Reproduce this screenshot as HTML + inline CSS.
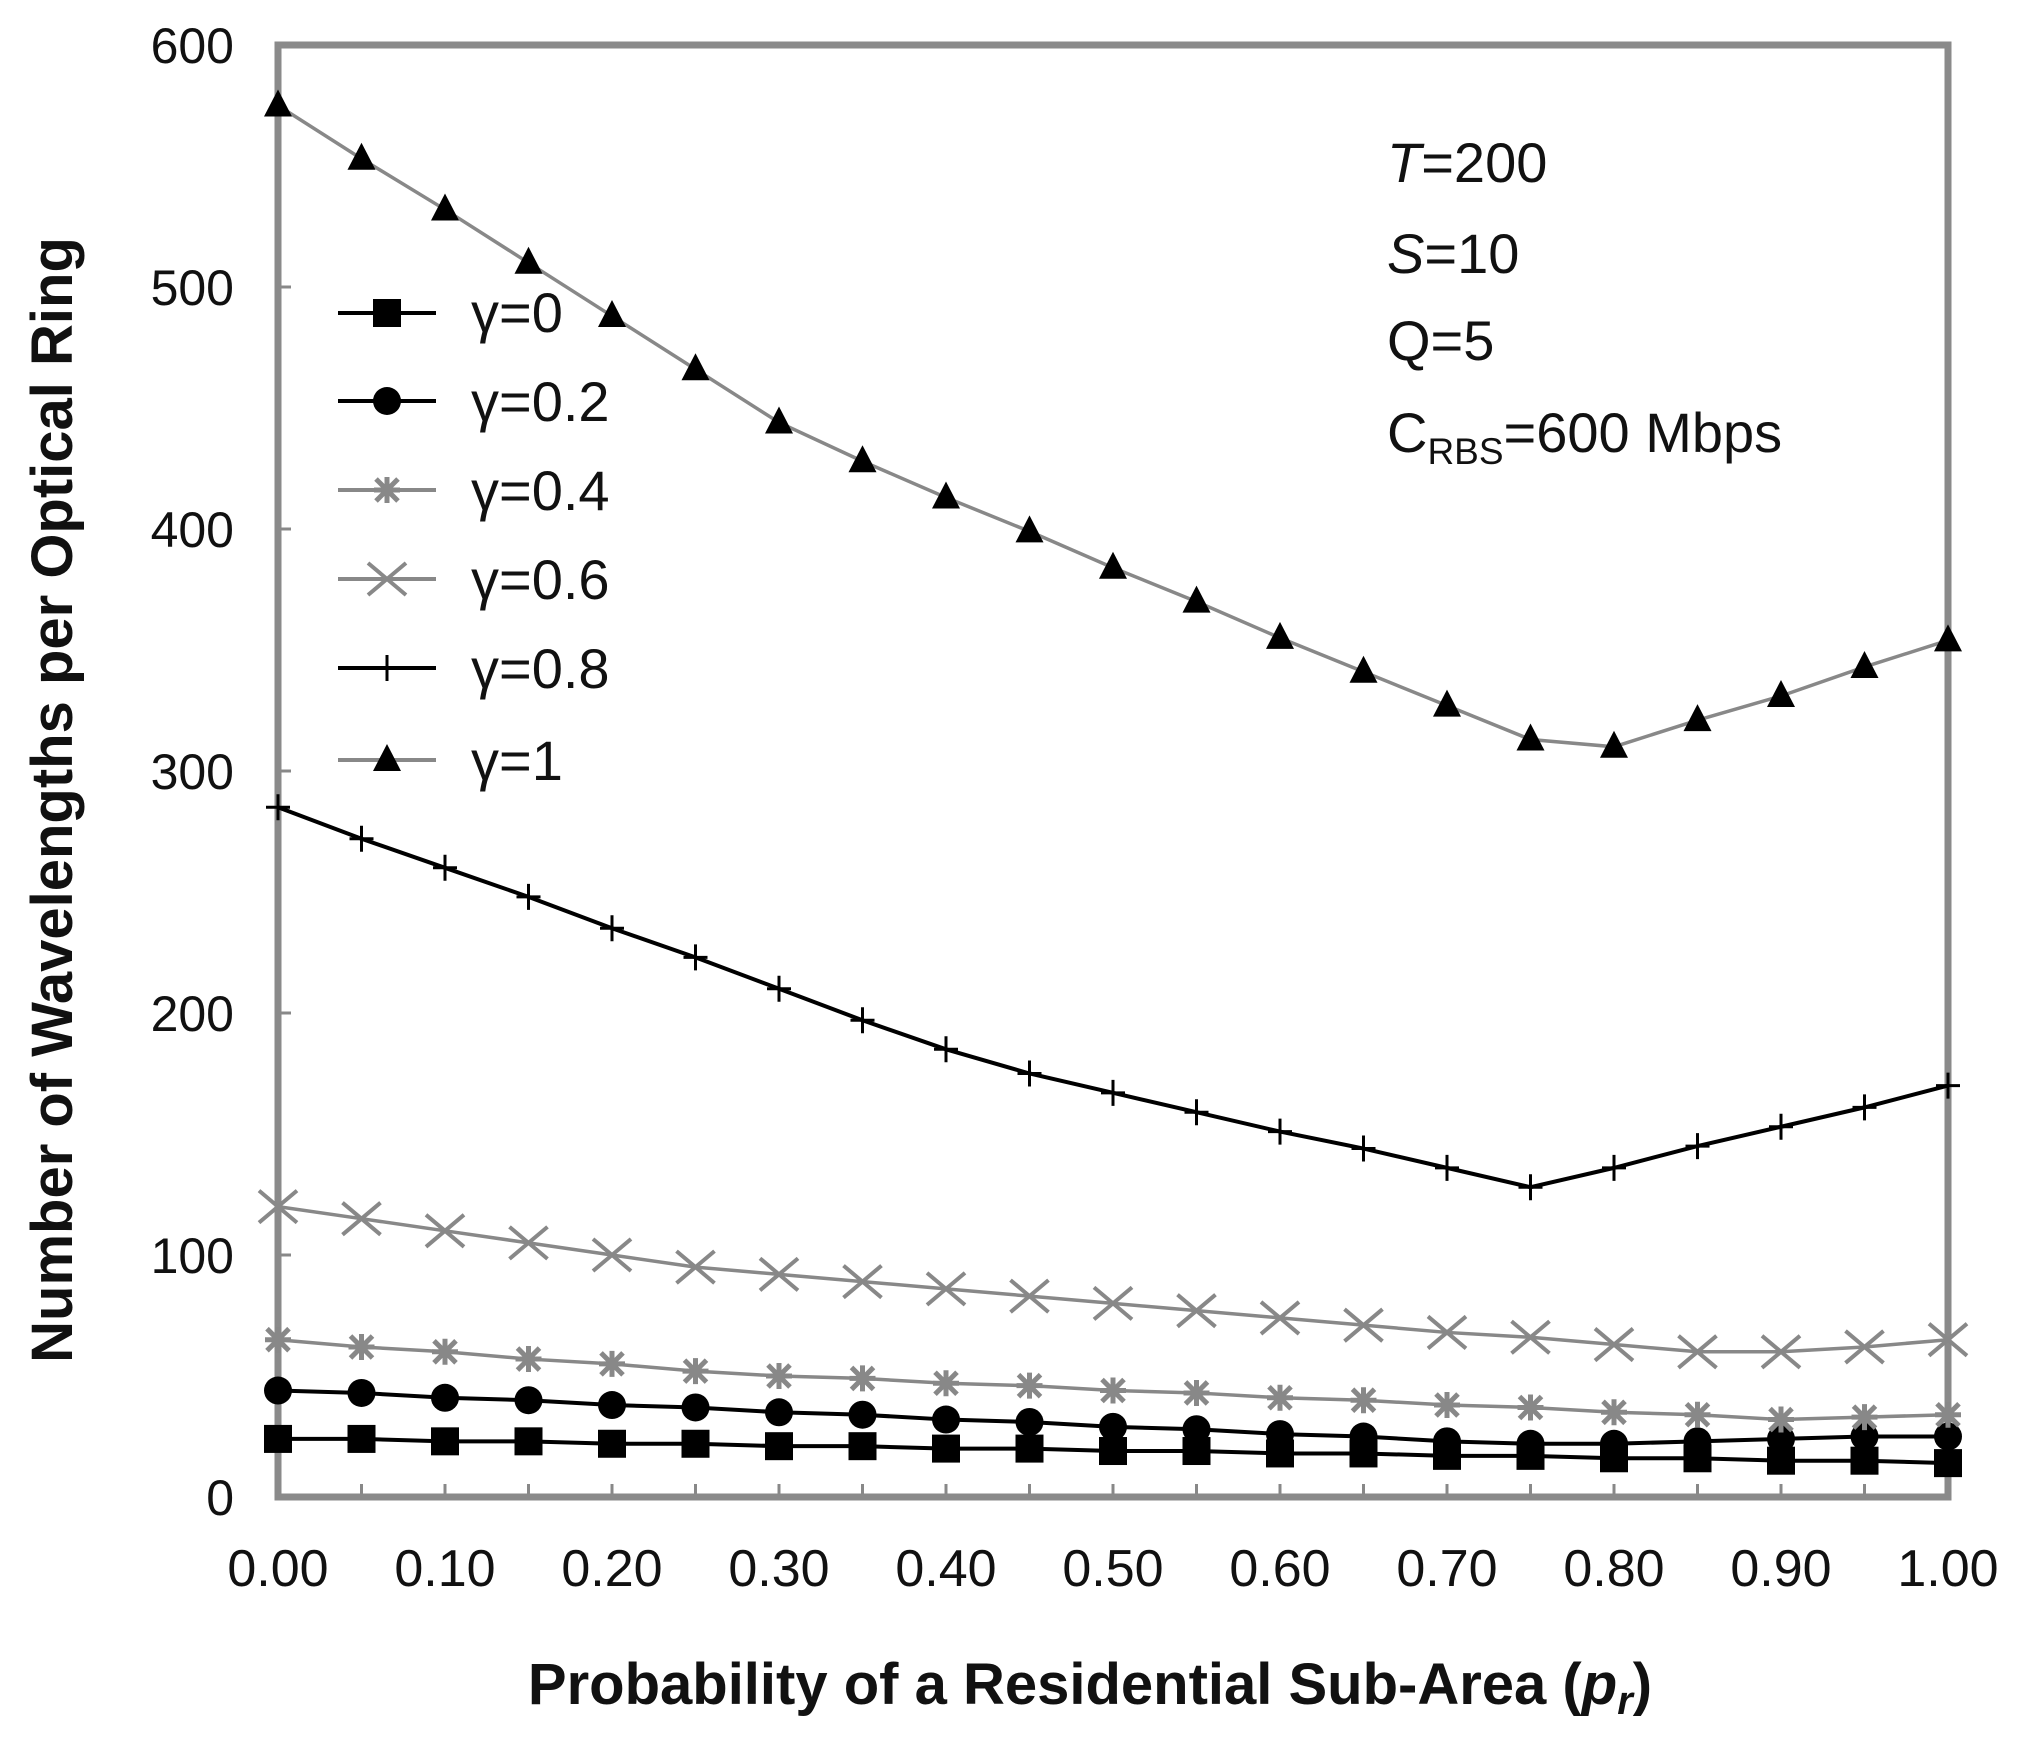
<!DOCTYPE html>
<html><head><meta charset="utf-8"><style>
html,body{margin:0;padding:0;background:#fff}
svg{display:block}
text{font-family:"Liberation Sans",Arial,sans-serif;fill:#111}
</style></head><body>
<svg id="s" width="2019" height="1737" viewBox="0 0 2019 1737" xmlns="http://www.w3.org/2000/svg">
<rect width="2019" height="1737" fill="#fff"/>
<g id="ticks" stroke="#888" stroke-width="3"></g>
<rect x="278" y="45" width="1670" height="1452" fill="none" stroke="#8a8a8a" stroke-width="7"/>
<g font-size="50" text-anchor="end">
<text x="234" y="1515">0</text>
<text x="234" y="1273">100</text>
<text x="234" y="1031">200</text>
<text x="234" y="789">300</text>
<text x="234" y="547">400</text>
<text x="234" y="305">500</text>
<text x="234" y="63">600</text>
</g>
<g font-size="52" text-anchor="middle">
<text x="278" y="1586">0.00</text><text x="445" y="1586">0.10</text><text x="612" y="1586">0.20</text>
<text x="779" y="1586">0.30</text><text x="946" y="1586">0.40</text><text x="1113" y="1586">0.50</text>
<text x="1280" y="1586">0.60</text><text x="1447" y="1586">0.70</text><text x="1614" y="1586">0.80</text>
<text x="1781" y="1586">0.90</text><text x="1948" y="1586">1.00</text>
</g>
<text x="1090" y="1704" font-size="58" font-weight="bold" text-anchor="middle">Probability of a Residential Sub-Area (<tspan font-style="italic">p</tspan><tspan font-style="italic" font-size="40" dy="10">r</tspan><tspan dy="-10">)</tspan></text>
<text transform="translate(72,800) rotate(-90)" font-size="58" font-weight="bold" text-anchor="middle">Number of Wavelengths per Optical Ring</text>
<g font-size="56">
<text x="1387" y="182"><tspan font-style="italic">T</tspan>=200</text>
<text x="1387" y="273"><tspan font-style="italic">S</tspan>=10</text>
<text x="1387" y="360">Q=5</text>
<text x="1387" y="452">C<tspan font-size="37" dy="12">RBS</tspan><tspan dy="-12">=600 Mbps</tspan></text>
</g>
<g id="series"></g>
<g id="legend"></g>
<g font-size="56">
<text x="471" y="332">γ=0</text>
<text x="471" y="421">γ=0.2</text>
<text x="471" y="510">γ=0.4</text>
<text x="471" y="599">γ=0.6</text>
<text x="471" y="688">γ=0.8</text>
<text x="471" y="780">γ=1</text>
</g>
</svg>
<script>
var NS="http://www.w3.org/2000/svg";
function el(p,n,a){var e=document.createElementNS(NS,n);for(var k in a)e.setAttribute(k,a[k]);p.appendChild(e);return e;}
var X=function(i){return 278+i*83.5}, Y=function(v){return 1497-v*2.42};
var tk=document.getElementById('ticks');
for(var i=1;i<20;i++)el(tk,'line',{x1:X(i),x2:X(i),y1:1497,y2:1484});
for(var v=100;v<600;v+=100)el(tk,'line',{x1:278,x2:291,y1:Y(v),y2:Y(v)});
var S=[
{d:[24,24,23,23,22,22,21,21,20,20,19,19,18,18,17,17,16,16,15,15,14],c:'#000',m:'sq'},
{d:[44,43,41,40,38,37,35,34,32,31,29,28,26,25,23,22,22,23,24,25,25],c:'#000',m:'ci'},
{d:[65,62,60,57,55,52,50,49,47,46,44,43,41,40,38,37,35,34,32,33,34],c:'#888',m:'as'},
{d:[120,115,110,105,100,95,92,89,86,83,80,77,74,71,68,66,63,60,60,62,65],c:'#888',m:'x'},
{d:[285,272,260,248,235,223,210,197,185,175,167,159,151,144,136,128,136,145,153,161,170],c:'#000',m:'pl'},
{d:[575,553,532,510,488,466,444,428,413,399,384,370,355,341,327,313,310,321,331,343,354],c:'#888',m:'tr'}];
function mark(g,m,x,y,c){
 if(m=='sq')el(g,'rect',{x:x-14,y:y-14,width:28,height:28,fill:'#000'});
 else if(m=='ci')el(g,'circle',{cx:x,cy:y,r:14,fill:'#000'});
 else if(m=='tr')el(g,'path',{d:'M'+x+' '+(y-16)+'L'+(x+14)+' '+(y+11)+'L'+(x-14)+' '+(y+11)+'Z',fill:'#000'});
 else if(m=='x')el(g,'path',{d:'M'+(x-19)+' '+(y-16)+'L'+(x+19)+' '+(y+16)+'M'+(x-19)+' '+(y+16)+'L'+(x+19)+' '+(y-16),stroke:'#888','stroke-width':4,fill:'none'});
 else if(m=='as')el(g,'path',{d:'M'+(x-11)+' '+(y-11)+'L'+(x+11)+' '+(y+11)+'M'+(x-11)+' '+(y+11)+'L'+(x+11)+' '+(y-11)+'M'+x+' '+(y-13)+'L'+x+' '+(y+13)+'M'+(x-13)+' '+y+'L'+(x+13)+' '+y,stroke:'#888','stroke-width':5,fill:'none'});
 else if(m=='pl')el(g,'path',{d:'M'+(x-12)+' '+y+'L'+(x+12)+' '+y+'M'+x+' '+(y-13)+'L'+x+' '+(y+13),stroke:'#000','stroke-width':3,fill:'none'});
}
var g=document.getElementById('series'),lg=document.getElementById('legend');
var ly=[313,401,490,579,668,760];
S.forEach(function(s,k){
 var p=s.d.map(function(v,i){return X(i)+','+Y(v)}).join(' ');
 el(g,'polyline',{points:p,fill:'none',stroke:s.c,'stroke-width':(s.c=='#000'?4:3.5)});
 s.d.forEach(function(v,i){mark(g,s.m,X(i),Y(v))});
 el(lg,'line',{x1:338,x2:436,y1:ly[k],y2:ly[k],stroke:s.c,'stroke-width':4});
 mark(lg,s.m,387,ly[k]);
});
</script>
</body></html>
